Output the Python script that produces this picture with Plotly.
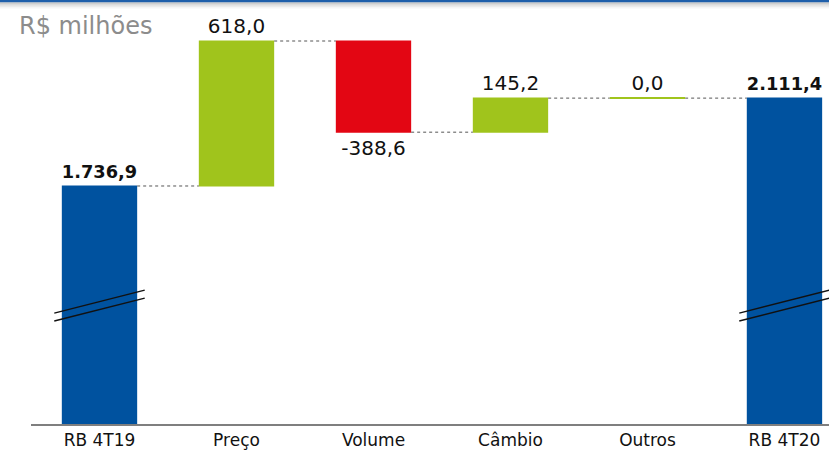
import plotly.graph_objects as go

categories = ["RB 4T19", "Preço", "Volume", "Câmbio", "Outros", "RB 4T20"]
values = [1736.9, 618.0, -388.6, 145.2, 0.0, 2111.4]
measures = ["absolute", "relative", "relative", "relative", "relative", "total"]
unit_title = "R$ milhões"

BLUE = "#00529F"
GREEN = "#A0C41C"
RED = "#E30613"
FONT = "DejaVu Sans"
BAR_W = 0.55


def fmt_br(v):
    s = f"{v:,.1f}"
    return s.replace(",", "X").replace(".", ",").replace("X", ".")


texts = []
for v, m in zip(values, measures):
    t = fmt_br(v)
    if m in ("absolute", "total"):
        t = f"<b>{t}</b>"
    texts.append(t)

# running level for zero-height bars
levels = []
run = 0.0
for v, m in zip(values, measures):
    if m == "absolute":
        run = v
    elif m == "relative":
        run += v
    levels.append(run)

fig = go.Figure()
fig.add_trace(go.Waterfall(
    x=list(range(len(categories))),
    y=values,
    measure=measures,
    text=texts,
    textposition="outside",
    textfont=dict(family=FONT, size=20, color="#111111"),
    width=BAR_W,
    increasing=dict(marker=dict(color=GREEN, line=dict(color=GREEN, width=0))),
    decreasing=dict(marker=dict(color=RED, line=dict(color=RED, width=0))),
    totals=dict(marker=dict(color=BLUE, line=dict(color=BLUE, width=0))),
    connector=dict(line=dict(color="#555555", width=1, dash="dot"), mode="between"),
    cliponaxis=False,
    hoverinfo="skip",
))

# zero-height bars drawn as a thin line at their level
for i, v in enumerate(values):
    if v == 0 and measures[i] == "relative":
        fig.add_trace(go.Scatter(
            x=[i - BAR_W / 2, i + BAR_W / 2], y=[levels[i], levels[i]],
            mode="lines", line=dict(color=GREEN, width=2),
            hoverinfo="skip", showlegend=False))

shapes = []
# axis-break marks on total bars
for idx in (0, 5):
    for dy in (0, 34):
        shapes.append(dict(type="line", xref="x", yref="y",
                           x0=idx - 0.33, x1=idx + 0.33,
                           y0=1195 - dy, y1=1293 - dy,
                           line=dict(color="#111111", width=1.5)))
# top blue rule with shadow
for i, op in enumerate([0.35, 0.22, 0.12, 0.06]):
    yy = 1 - (3 + i * 1.6) / 424
    shapes.append(dict(type="line", xref="paper", yref="paper",
                       x0=-0.05, x1=1.01, y0=yy, y1=yy,
                       line=dict(color=f"rgba(90,90,90,{op})", width=1.6)))
shapes.append(dict(type="line", xref="paper", yref="paper",
                   x0=-0.05, x1=1.01, y0=1 - 1 / 424, y1=1 - 1 / 424,
                   line=dict(color="#1F5FAA", width=2.5)))

fig.update_layout(
    width=829, height=452,
    margin=dict(l=31, r=0, t=0, b=28),
    paper_bgcolor="white", plot_bgcolor="white",
    showlegend=False,
    font=dict(family=FONT, color="#111111"),
    xaxis=dict(range=[-0.5, 5.325], tickmode="array",
               tickvals=list(range(len(categories))), ticktext=categories,
               showgrid=False, zeroline=False, showline=True,
               linecolor="#7F7F7F", linewidth=2, ticks="",
               tickfont=dict(family=FONT, size=17, color="#111111")),
    yaxis=dict(range=[722.4, 2529.7], visible=False, showgrid=False, zeroline=False),
    shapes=shapes,
    annotations=[dict(text=unit_title, xref="paper", yref="paper",
                      x=-14 / 798, y=1 - 26 / 424, xanchor="left", yanchor="middle",
                      showarrow=False,
                      font=dict(family=FONT, size=24, color="#8C8C8C"))],
)

fig.write_html("out.html", config={"displayModeBar": False},
               post_script="document.body.style.margin='0';document.body.style.padding='0';")
